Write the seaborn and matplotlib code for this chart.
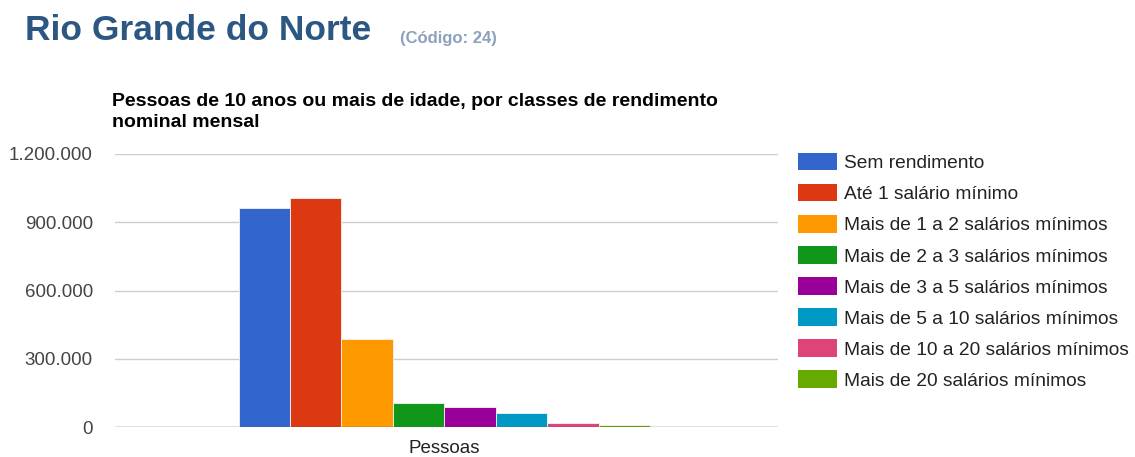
import matplotlib
matplotlib.use("Agg")
import matplotlib.pyplot as plt
from matplotlib.patches import Patch
from matplotlib.ticker import FuncFormatter, MultipleLocator
import seaborn as sns
import pandas as pd

# Pessoas de 10 anos ou mais por classe de rendimento nominal mensal
grupo = ["Pessoas"]
classes = [
    "Sem rendimento",
    "Até 1 salário mínimo",
    "Mais de 1 a 2 salários mínimos",
    "Mais de 2 a 3 salários mínimos",
    "Mais de 3 a 5 salários mínimos",
    "Mais de 5 a 10 salários mínimos",
    "Mais de 10 a 20 salários mínimos",
    "Mais de 20 salários mínimos",
]
pessoas = [962000, 1006000, 386500, 105400, 87800, 61500, 21000, 8000]
cores = ["#3366cc", "#dc3912", "#ff9900", "#109618",
         "#990099", "#0099c6", "#dd4477", "#66aa00"]

df = pd.DataFrame({
    "grupo": grupo * len(classes),
    "classe": classes,
    "pessoas": pessoas,
})

sns.set_theme(style="white")
plt.rcParams["font.family"] = ["Liberation Sans", "DejaVu Sans"]

fig = plt.figure(figsize=(11.35, 4.57), dpi=100)
ax = fig.add_axes([115 / 1135, 1 - 427.3 / 457, (778 - 115) / 1135, (427.3 - 154) / 457])

sns.barplot(data=df, x="grupo", y="pessoas", hue="classe", hue_order=classes,
            palette=cores, saturation=1, width=0.8, edgecolor="#f4f4f4", linewidth=0.6,
            ax=ax, legend=False)

ax.set_ylim(0, 1200000)
ax.set_xlim(-0.64, 0.648)
ax.yaxis.set_major_locator(MultipleLocator(300000))
ax.yaxis.set_major_formatter(FuncFormatter(lambda v, p: f"{int(v):,}".replace(",", ".")))
ax.grid(axis="y", color="#cccccc", linewidth=1)
ax.set_axisbelow(True)
for s in ax.spines.values():
    s.set_visible(False)
ax.axhline(0, color="#555555", linewidth=0.9, zorder=5)
ax.set_xlabel("")
ax.set_ylabel("")
ax.tick_params(axis="y", length=0, pad=16, labelsize=13.5, labelcolor="#444444")
ax.tick_params(axis="x", length=0, pad=9, labelsize=13.5, labelcolor="#222222")

handles = [Patch(facecolor=c, edgecolor="none") for c in cores]
ax.legend(handles, classes, loc="upper left", bbox_to_anchor=(798 / 1135, 1 - 153.3 / 457),
          bbox_transform=fig.transFigure, frameon=False, fontsize=13.8,
          handlelength=2.05, handleheight=1.0, handletextpad=0.37,
          labelspacing=0.62, labelcolor="#222222", borderaxespad=0, borderpad=0)

fig.text(25 / 1135, 1 - 30 / 457, "Rio Grande do Norte", fontsize=25.5, fontweight="bold",
         color="#2d5783", va="center", ha="left")
fig.text(400 / 1135, 1 - 38 / 457, "(Código: 24)", fontsize=12, fontweight="bold",
         color="#8da0bd", va="center", ha="left")
fig.text(112 / 1135, 1 - 112 / 457,
         "Pessoas de 10 anos ou mais de idade, por classes de rendimento\nnominal mensal",
         fontsize=14, fontweight="bold", color="#000000", va="center", ha="left",
         linespacing=1.35)

fig.savefig("out.png", dpi=100, facecolor="white")
